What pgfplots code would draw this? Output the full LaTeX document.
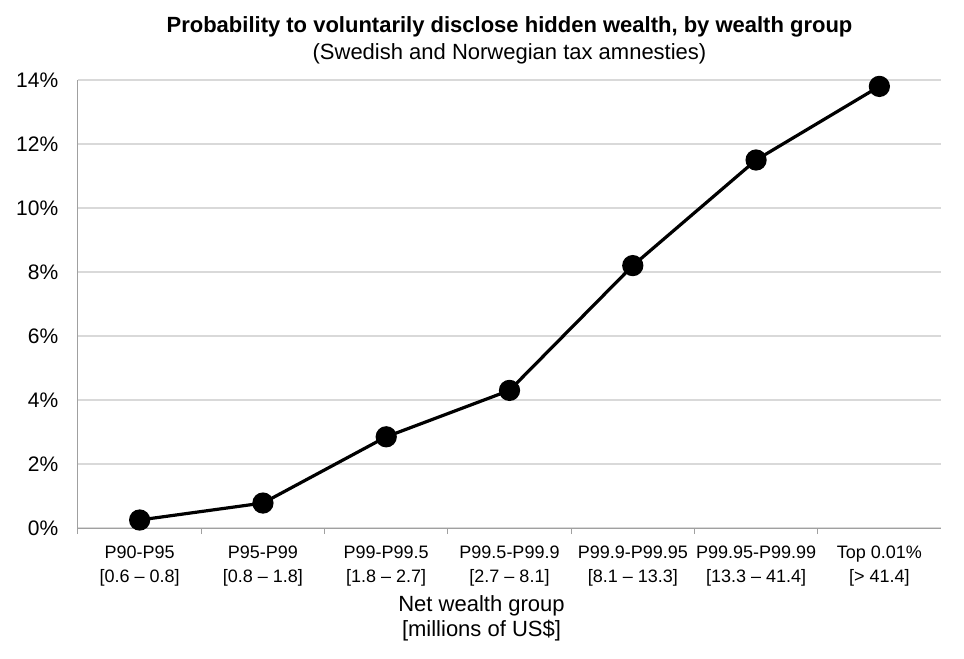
\documentclass[border=0pt]{standalone}
\usepackage{pgfplots}
\pgfplotsset{compat=1.18}
\usepackage{fontspec}
\setmainfont{Liberation Sans}

\definecolor{gridgray}{HTML}{D9D9D9}
\definecolor{axisgray}{HTML}{A0A0A0}

\begin{document}
\begin{tikzpicture}
\begin{axis}[
    scale only axis,
    width=863bp, height=448bp,
    xmin=-0.5, xmax=6.5,
    ymin=0, ymax=14,
    axis x line*=bottom,
    axis y line*=left,
    axis line style={axisgray, line width=1bp},
    xtick={0,...,6},
    xticklabels={
        {P90-P95\\{}[0.6 \textendash{} 0.8]},
        {P95-P99\\{}[0.8 \textendash{} 1.8]},
        {P99-P99.5\\{}[1.8 \textendash{} 2.7]},
        {P99.5-P99.9\\{}[2.7 \textendash{} 8.1]},
        {P99.9-P99.95\\{}[8.1 \textendash{} 13.3]},
        {P99.95-P99.99\\{}[13.3 \textendash{} 41.4]},
        {Top 0.01\%\\{}[> 41.4]}},
    xticklabel style={align=center, font=\fontsize{18bp}{24bp}\selectfont, yshift=-10bp},
    major x tick style={draw=none},
    minor xtick={-0.5,0.5,...,5.5},
    minor x tick style={axisgray, line width=1bp},
    tick align=outside,
    minor tick length=6bp,
    ytick={0,2,...,14},
    yticklabel={\pgfmathprintnumber{\tick}\%},
    yticklabel style={font=\fontsize{21bp}{24bp}\selectfont, xshift=-12bp},
    major y tick style={draw=none},
    /pgf/number format/assume math mode=true,
    ymajorgrids=true,
    grid style={gridgray, line width=1.5bp},
    xlabel={Net wealth group\\{}[millions of US\$]},
    xlabel style={align=center, font=\fontsize{22bp}{25bp}\selectfont, yshift=-3bp, xshift=-28bp},
    title={\textbf{Probability to voluntarily disclose hidden wealth, by wealth group}\\(Swedish and Norwegian tax amnesties)},
    title style={align=center, font=\fontsize{22bp}{27bp}\selectfont, yshift=6bp},
    clip=false,
]
\addplot[black, line width=3.2bp, mark=*, mark size=9bp, mark options={fill=black}]
    coordinates {
    (0, 0.25) (1, 0.78) (2, 2.85) (3, 4.3) (4, 8.2) (5, 11.5) (6, 13.8)
    };
\end{axis}
\pgfresetboundingbox
\path ([shift={(-78bp,-130bp)}]current axis.south west) rectangle ([shift={(23bp,80bp)}]current axis.north east);
\end{tikzpicture}
\end{document}
